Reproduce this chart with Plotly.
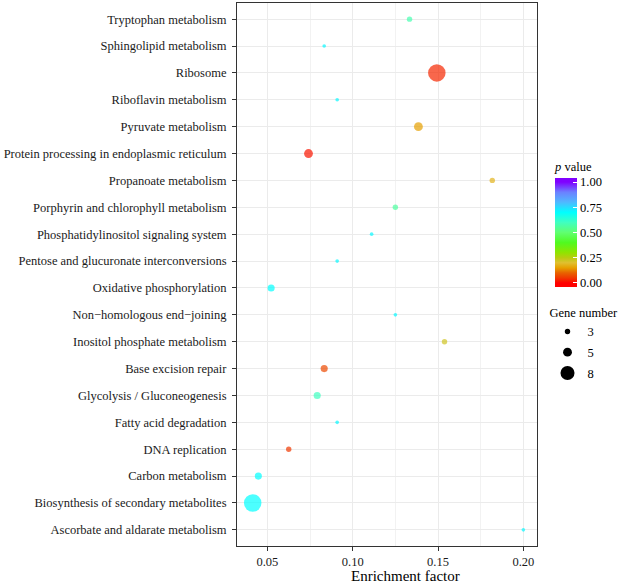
import plotly.graph_objects as go

# ---- data (top of chart to bottom) ----
pathways = [
    "Tryptophan metabolism",
    "Sphingolipid metabolism",
    "Ribosome",
    "Riboflavin metabolism",
    "Pyruvate metabolism",
    "Protein processing in endoplasmic reticulum",
    "Propanoate metabolism",
    "Porphyrin and chlorophyll metabolism",
    "Phosphatidylinositol signaling system",
    "Pentose and glucuronate interconversions",
    "Oxidative phosphorylation",
    "Non\u2212homologous end\u2212joining",
    "Inositol phosphate metabolism",
    "Base excision repair",
    "Glycolysis / Gluconeogenesis",
    "Fatty acid degradation",
    "DNA replication",
    "Carbon metabolism",
    "Biosynthesis of secondary metabolites",
    "Ascorbate and aldarate metabolism",
]
enrichment_factor = [0.1333, 0.0833, 0.1493, 0.0909, 0.1385, 0.0741, 0.1818, 0.1250, 0.1111, 0.0909,
                     0.0522, 0.1250, 0.1538, 0.0833, 0.0792, 0.0909, 0.0625, 0.0447, 0.0414, 0.2000]
gene_number = [3, 2, 10, 2, 5, 5, 3, 3, 2, 2,
               4, 2, 3, 4, 4, 2, 3, 4, 10, 2]
p_value = [0.58, 0.71, 0.035, 0.71, 0.15, 0.02, 0.18, 0.56, 0.71, 0.71,
           0.70, 0.71, 0.22, 0.07, 0.60, 0.71, 0.05, 0.70, 0.70, 0.71]

size_legend_values = [3, 5, 8]
colorbar_ticks = [0.0, 0.25, 0.5, 0.75, 1.0]
x_ticks = [0.05, 0.10, 0.15, 0.20]
x_title = "Enrichment factor"

FONT = "Liberation Serif"

# colour stops over the p-value range 0..1
base_stops = [
    [0.00, "#FF0000"], [0.05, "#F03800"], [0.10, "#E86200"], [0.15, "#E6A000"],
    [0.20, "#E0C030"], [0.25, "#B8CC10"], [0.30, "#90E400"], [0.40, "#50FA20"],
    [0.50, "#60FF70"], [0.60, "#40FFC0"], [0.70, "#00FFFF"], [0.80, "#50B8FF"],
    [0.90, "#6C80FF"], [1.00, "#8000FF"],
]
# colour bar drawn slightly beyond 0 and 1 (like ggplot's bar ends)
PAD = 0.04
CMIN, CMAX = -PAD, 1 + PAD
colorscale = [[0.0, base_stops[0][1]]]
for s, c in base_stops:
    colorscale.append([(s - CMIN) / (CMAX - CMIN), c])
colorscale.append([1.0, base_stops[-1][1]])


def diameter(n):
    return 1.73 * n + 0.2


fig = go.Figure()
fig.add_trace(go.Scatter(
    x=enrichment_factor,
    y=pathways,
    mode="markers",
    showlegend=False,
    hoverinfo="skip",
    marker=dict(
        size=[diameter(n) for n in gene_number],
        sizemode="diameter",
        color=p_value,
        cmin=CMIN, cmax=CMAX,
        colorscale=colorscale,
        line=dict(width=0),
        colorbar=dict(
            title=dict(text="<i>p</i> value", side="top", font=dict(family=FONT, size=12.5, color="#000")),
            tickvals=colorbar_ticks,
            ticktext=[f"{v:.2f}" for v in colorbar_ticks],
            tickfont=dict(family=FONT, size=12.5, color="#000"),
            ticks="inside", ticklen=4, tickcolor="white",
            outlinewidth=0,
            thickness=22,
            lenmode="pixels", len=128,
            x=1.06, xanchor="left",
            y=0.477, yanchor="bottom",
            xpad=0, ypad=0,
        ),
    ),
))

for i, v in enumerate(size_legend_values):
    fig.add_trace(go.Scatter(
        x=[None], y=[None], mode="markers", name=str(v),
        legendgroup=f"g{i}",
        marker=dict(size=diameter(v), color="black", line=dict(width=0)),
        showlegend=True,
    ))

cat_order = list(reversed(pathways))

fig.update_layout(
    width=625, height=583,
    margin=dict(l=237, r=88, t=3, b=37),
    paper_bgcolor="white", plot_bgcolor="white",
    font=dict(family=FONT, size=12.5, color="#000"),
    legend=dict(
        title=dict(text="Gene number", font=dict(family=FONT, size=12.5, color="#000")),
        itemsizing="trace",
        x=1.035, xanchor="left", y=0.452, yanchor="top",
        font=dict(family=FONT, size=12.5, color="#000"),
        tracegroupgap=1.5, bgcolor="rgba(0,0,0,0)",
    ),
    xaxis=dict(
        range=[0.0322, 0.2080],
        tickvals=x_ticks,
        ticktext=[f"{v:.2f}" for v in x_ticks],
        showgrid=True, gridcolor="#EBEBEB", gridwidth=1,
        minor=dict(dtick=0.025, tick0=0, showgrid=True, gridcolor="#F2F2F2", gridwidth=0.6, ticks=""),
        showline=True, linecolor="#333333", linewidth=1, mirror=True,
        ticks="outside", ticklen=4, tickcolor="#333333",
        tickfont=dict(family=FONT, size=12.5, color="#1a1a1a"),
        automargin=False,
        zeroline=False,
    ),
    yaxis=dict(
        type="category",
        categoryorder="array", categoryarray=cat_order,
        range=[-0.6, len(pathways) - 0.4],
        showgrid=True, gridcolor="#EBEBEB", gridwidth=1,
        showline=True, linecolor="#333333", linewidth=1, mirror=True,
        ticks="outside", ticklen=4, tickcolor="#333333",
        tickfont=dict(family=FONT, size=12.5, color="#1a1a1a"),
        ticklabelstandoff=3,
        automargin=False,
        zeroline=False,
    ),
    annotations=[dict(
        text=x_title, xref="paper", yref="paper",
        x=0.56, y=-0.0545, xanchor="center", yanchor="middle",
        showarrow=False, font=dict(family=FONT, size=15, color="#000"),
    )],
)

fig.write_html(
    "out.html",
    config={"displayModeBar": False},
    post_script="document.body.style.margin='0';document.body.style.padding='0';",
)
